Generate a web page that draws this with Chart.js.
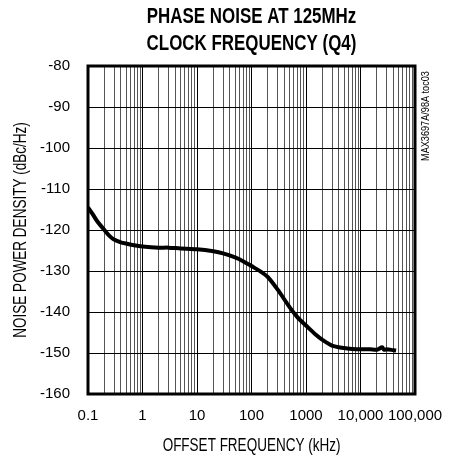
<!DOCTYPE html>
<html>
<head>
<meta charset="utf-8">
<script src="https://cdn.jsdelivr.net/npm/chart.js@4"></script>
<style>
  html, body { margin: 0; padding: 0; background: #fff; }
  #wrap { width: 459px; height: 459px; }
</style>
</head>
<body>
<div id="wrap"><canvas id="chart" width="459" height="459"></canvas></div>
<script>
// values
const freqKHz = [0.1, 0.12, 0.15, 0.2, 0.25, 0.3, 0.4, 0.5, 0.7, 1, 2, 3, 5, 10, 20, 30, 50, 70, 100,
  150, 200, 300, 500, 700, 1000, 1500, 2000, 3000, 5000, 7000, 10000, 15000, 20000, 25000, 27000, 30000, 40000, 45000];
const noiseDbc = [-114.5, -116, -118, -120, -121.5, -122.3, -123, -123.3, -123.7, -124, -124.3, -124.3, -124.5, -124.7, -125.2, -125.7, -126.7, -127.6, -128.8,
  -130.2, -131.5, -134.5, -138.8, -141.3, -143.3, -145.5, -146.8, -148.2, -148.8, -149, -149.1, -149.1, -149.2, -148.6, -149.2, -149.1, -149.3, -149.4];

const decades = [0.1, 1, 10, 100, 1000, 10000, 100000];
const decadeLabels = ['0.1', '1', '10', '100', '1000', '10,000', '100,000'];
const yTicks = [-160, -150, -140, -130, -120, -110, -100, -90, -80];

const titleLines = ['PHASE NOISE AT 125MHz', 'CLOCK FREQUENCY (Q4)'];
const xTitle = 'OFFSET FREQUENCY (kHz)';
const yTitle = 'NOISE POWER DENSITY (dBc/Hz)';
const sideNote = 'MAX3697A/98A toc03';

const FONT = "'Liberation Sans', Arial, sans-serif";

// draws condensed text (the original uses a narrow face)
function narrowText(ctx, text, font, x, y, squeeze, angle) {
  ctx.save();
  ctx.font = font;
  ctx.fillStyle = '#000';
  ctx.textAlign = 'center';
  ctx.textBaseline = 'alphabetic';
  ctx.translate(x, y);
  if (angle) ctx.rotate(angle);
  ctx.scale(squeeze, 1);
  ctx.fillText(text, 0, 0);
  ctx.restore();
}

const textPlugin = {
  id: 'texts',
  afterDraw(chart) {
    const { ctx, chartArea: a } = chart;
    const cx = (a.left + a.right) / 2;
    const cy = (a.top + a.bottom) / 2;

    // plot frame
    ctx.save();
    ctx.strokeStyle = '#000';
    ctx.lineWidth = 3;
    ctx.strokeRect(a.left, a.top, a.right - a.left, a.bottom - a.top);
    ctx.restore();

    narrowText(ctx, titleLines[0], 'bold 22px ' + FONT, cx, 23, 0.77);
    narrowText(ctx, titleLines[1], 'bold 22px ' + FONT, cx, 50, 0.77);
    narrowText(ctx, xTitle, '18px ' + FONT, cx, 451, 0.75);
    narrowText(ctx, yTitle, '18px ' + FONT, 25.5, cy, 0.75, -Math.PI / 2);
    narrowText(ctx, sideNote, '11px ' + FONT, a.right + 14, a.top + 50, 0.83, -Math.PI / 2);
  }
};

new Chart(document.getElementById('chart'), {
  type: 'line',
  data: {
    datasets: [{
      data: freqKHz.map((f, i) => ({ x: f, y: noiseDbc[i] })),
      borderColor: '#000',
      borderWidth: 4,
      pointRadius: 0,
      tension: 0.3,
      fill: false
    }]
  },
  options: {
    responsive: false,
    animation: false,
    layout: { padding: { left: 0, right: 44, top: 66, bottom: 0 } },
    plugins: {
      legend: { display: false },
      tooltip: { enabled: false },
      title: { display: false }
    },
    scales: {
      x: {
        type: 'logarithmic',
        min: 0.1,
        max: 100000,
        afterFit(scale) { scale.height = 65; },
        afterBuildTicks(scale) {
          const t = [];
          decades.forEach((d, i) => {
            t.push({ value: d, decade: i });
            if (d < 100000) for (let m = 2; m <= 9; m++) t.push({ value: d * m });
          });
          scale.ticks = t;
        },
        ticks: {
          autoSkip: false,
          maxRotation: 0,
          minRotation: 0,
          padding: 13,
          color: '#000',
          font: { family: FONT, size: 15 },
          callback(value, index, ticks) {
            const i = ticks[index].decade;
            return i === undefined ? '' : decadeLabels[i];
          }
        },
        grid: {
          drawTicks: false,
          lineWidth: 1,
          color: ctx => (ctx.tick && ctx.tick.decade !== undefined) ? '#000' : '#555'
        },
        border: { display: false }
      },
      y: {
        min: -160,
        max: -80,
        afterFit(scale) { scale.width = 88; },
        afterBuildTicks(scale) { scale.ticks = yTicks.map(v => ({ value: v })); },
        ticks: {
          padding: 18,
          color: '#000',
          font: { family: FONT, size: 15 },
          callback: v => String(v)
        },
        grid: { drawTicks: false, color: '#000', lineWidth: 1 },
        border: { display: false }
      }
    }
  },
  plugins: [textPlugin]
});
</script>
</body>
</html>
